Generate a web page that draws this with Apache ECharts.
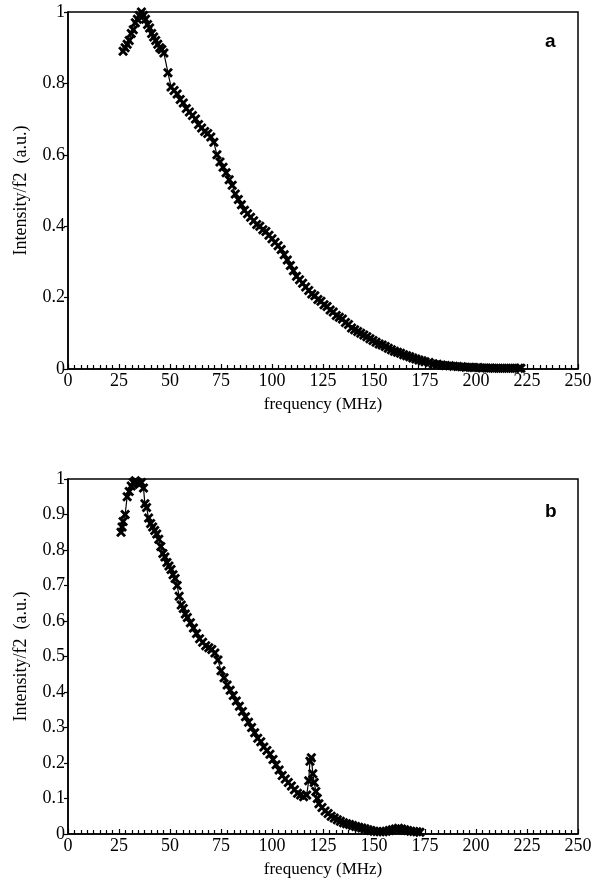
<!DOCTYPE html>
<html>
<head>
<meta charset="utf-8">
<script src="https://cdn.jsdelivr.net/npm/echarts@6/dist/echarts.min.js"></script>
<style>
  html, body { margin: 0; padding: 0; background: #fff; }
  #chart { width: 603px; height: 879px; }
</style>
</head>
<body>
<div id="chart"></div>
<script>
// panel a
const freqA = [27, 28, 29, 30, 31, 32, 33, 34, 35, 36, 37, 38, 39, 40, 41, 42, 43, 44, 45, 46, 47,
  49, 50.5, 52, 53.5, 55, 56.5, 58, 59.5, 61, 62.5, 64, 65.5, 67, 68.5, 70, 71.5, 73, 74.5, 76, 77.5,
  79, 80.5, 82, 83.5, 85, 86.5, 88, 89.5, 91, 92.5, 94, 95.5, 97, 98.5, 100, 101.5, 103, 104.5, 106,
  107.5, 109, 110.5, 112, 113.5, 115, 116.5, 118, 119.5, 121, 122.5, 124, 125.5, 127, 128.5, 130,
  131.5, 133, 134.5, 136, 137.5, 139, 140.5, 142, 143.5, 145, 146.5, 148, 149.5, 151, 152.5, 154,
  155.5, 157, 158.5, 160, 161.5, 163, 164.5, 166, 167.5, 169, 170.5, 172, 173.5, 175, 177, 179, 181,
  183, 185, 187, 189, 191, 193, 195, 197, 199, 201, 203, 205, 207, 209, 211, 213, 215, 217, 219, 221, 222]
const intensityA = [0.89, 0.90, 0.91, 0.92, 0.94, 0.95, 0.97, 0.98, 0.99, 1.00, 0.99, 0.98, 0.965, 0.955, 0.94, 0.93, 0.92, 0.91, 0.90, 0.895, 0.885,
  0.83, 0.79, 0.78, 0.77, 0.755, 0.745, 0.73, 0.72, 0.71, 0.70, 0.685, 0.675, 0.665, 0.66, 0.65, 0.635, 0.60, 0.58, 0.565, 0.55,
  0.53, 0.515, 0.49, 0.475, 0.46, 0.445, 0.435, 0.425, 0.415, 0.405, 0.40, 0.39, 0.385, 0.375, 0.365, 0.355, 0.345, 0.335, 0.32,
  0.305, 0.29, 0.275, 0.26, 0.25, 0.24, 0.23, 0.22, 0.21, 0.205, 0.195, 0.19, 0.18, 0.175, 0.165, 0.16,
  0.15, 0.145, 0.14, 0.13, 0.125, 0.115, 0.11, 0.105, 0.10, 0.095, 0.09, 0.085, 0.08, 0.075, 0.07, 0.067,
  0.063, 0.058, 0.054, 0.05, 0.047, 0.044, 0.04, 0.037, 0.034, 0.031, 0.028, 0.025, 0.023, 0.02, 0.018, 0.015, 0.013,
  0.011, 0.01, 0.009, 0.008, 0.007, 0.006, 0.005, 0.005, 0.004, 0.004, 0.003, 0.003, 0.003, 0.002, 0.002, 0.002, 0.002, 0.002, 0.002, 0.002, 0.002]

// panel b
const freqB = [26, 26.5, 27, 28, 29, 30, 31, 32, 33, 34, 35, 36, 37, 37.7, 38.5, 39.5, 40.5, 41.5, 42.5, 43.5,
  44.5, 45.5, 46.5, 47.5, 48.5, 49.5, 50.5, 51.5, 52.5, 53.5, 54.5, 55.5, 56.5, 57.5, 58.5, 60, 61.5, 63,
  64.5, 66, 67.5, 69, 70.5, 72, 73.5, 75, 76.5, 78, 79.5, 81, 82.5, 84, 85.5, 87, 88.5, 90, 91.5, 93, 94.5,
  96, 97.5, 99, 100.5, 102, 103.5, 105, 106.5, 108, 109.5, 111, 112.5, 114, 115.5, 117, 118, 118.6, 119.3,
  120, 120.7, 121.5, 122.2, 123, 124.5, 126, 127.5, 129, 130.5, 132, 133.5, 135, 136.5, 138, 139.5, 141,
  142.5, 144, 145.5, 147, 148.5, 150, 151.5, 153, 154.5, 156, 157.5, 159, 160.5, 162, 163.5, 165, 166.5,
  168, 169.5, 171, 172.5]
const intensityB = [0.85, 0.865, 0.88, 0.90, 0.95, 0.965, 0.98, 0.99, 0.995, 0.99, 0.985, 0.99, 0.975, 0.93, 0.92, 0.89, 0.875, 0.865, 0.855, 0.845,
  0.83, 0.81, 0.79, 0.78, 0.765, 0.755, 0.745, 0.73, 0.72, 0.70, 0.67, 0.645, 0.635, 0.62, 0.61, 0.595, 0.58, 0.565,
  0.55, 0.54, 0.53, 0.525, 0.52, 0.51, 0.49, 0.46, 0.44, 0.42, 0.405, 0.39, 0.375, 0.36, 0.345, 0.33, 0.315, 0.30, 0.285, 0.27, 0.26,
  0.245, 0.235, 0.225, 0.21, 0.195, 0.18, 0.165, 0.155, 0.145, 0.135, 0.125, 0.115, 0.11, 0.105, 0.11, 0.15, 0.205, 0.215,
  0.17, 0.145, 0.12, 0.10, 0.085, 0.075, 0.065, 0.058, 0.05, 0.045, 0.04, 0.036, 0.032, 0.029, 0.027, 0.024, 0.021,
  0.019, 0.017, 0.015, 0.012, 0.01, 0.008, 0.007, 0.006, 0.006, 0.008, 0.01, 0.012, 0.014, 0.016, 0.014, 0.012, 0.01,
  0.008, 0.007, 0.006, 0.005]

const xLabel = 'frequency (MHz)'
const yLabel = 'Intensity/f2  (a.u.)'

const serif = 'Liberation Serif'
// bold x marker
const cross = 'path://M0,2 L2,0 L5,3 L8,0 L10,2 L7,5 L10,8 L8,10 L5,7 L2,10 L0,8 L3,5 Z'

function pairs(xs, ys) {
  return xs.map((x, i) => [x, ys[i]])
}

function xAxisOpt(gridIndex) {
  return {
    gridIndex,
    type: 'value',
    min: 0,
    max: 250,
    interval: 25,
    name: xLabel,
    nameLocation: 'middle',
    nameGap: 27,
    nameTextStyle: { fontFamily: serif, fontSize: 17, color: '#000' },
    axisLine: { lineStyle: { color: '#000', width: 1.5 } },
    axisTick: { inside: true, length: 5, lineStyle: { color: '#000', width: 1.2 } },
    minorTick: { show: true, splitNumber: 8, length: 4, lineStyle: { color: '#000', width: 1.2 } },
    axisLabel: { fontFamily: serif, fontSize: 18, color: '#000', margin: 3 },
    splitLine: { show: false }
  }
}

function yAxisOpt(gridIndex, interval) {
  return {
    gridIndex,
    type: 'value',
    min: 0,
    max: 1,
    interval,
    name: yLabel,
    nameLocation: 'middle',
    nameRotate: 90,
    nameGap: 38,
    nameTextStyle: { fontFamily: serif, fontSize: 18, color: '#000' },
    axisLine: { lineStyle: { color: '#000', width: 1.5 } },
    axisTick: { inside: false, length: 4, lineStyle: { color: '#000', width: 1.2 } },
    axisLabel: {
      fontFamily: serif, fontSize: 18, color: '#000', margin: 3,
      formatter: v => String(Number(v.toFixed(1)))
    },
    splitLine: { show: false }
  }
}

function lineSeries(idx, data) {
  return {
    type: 'line',
    xAxisIndex: idx,
    yAxisIndex: idx,
    data,
    symbol: cross,
    symbolSize: 10,
    showAllSymbol: true,
    animation: false,
    itemStyle: { color: '#000' },
    lineStyle: { color: '#000', width: 1.2 }
  }
}

const chart = echarts.init(document.getElementById('chart'), null, { renderer: 'canvas' })
chart.setOption({
  backgroundColor: '#fff',
  title: [
    { text: 'a', left: 540, top: 27, textStyle: { fontFamily: 'Liberation Sans', fontWeight: 'bold', fontSize: 19, color: '#000' } },
    { text: 'b', left: 540, top: 497, textStyle: { fontFamily: 'Liberation Sans', fontWeight: 'bold', fontSize: 19, color: '#000' } }
  ],
  grid: [
    { left: 68, right: 25, top: 12, height: 357, show: true, borderColor: '#000', borderWidth: 1.5 },
    { left: 68, right: 25, top: 479, height: 355, show: true, borderColor: '#000', borderWidth: 1.5 }
  ],
  xAxis: [xAxisOpt(0), xAxisOpt(1)],
  yAxis: [yAxisOpt(0, 0.2), yAxisOpt(1, 0.1)],
  series: [
    lineSeries(0, pairs(freqA, intensityA)),
    lineSeries(1, pairs(freqB, intensityB))
  ]
})
</script>
</body>
</html>
